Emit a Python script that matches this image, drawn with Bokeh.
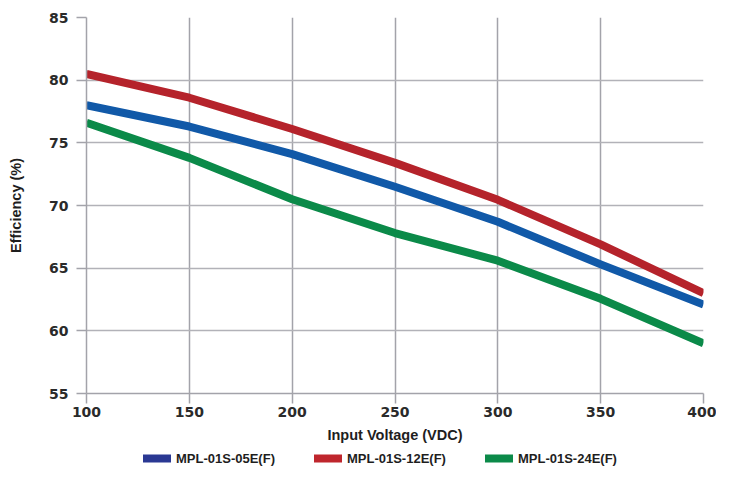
from bokeh.plotting import figure
from bokeh.layouts import column
from bokeh.models import FixedTicker, Legend, LegendItem
from bokeh.embed import file_html
from bokeh.resources import INLINE

voltage = [100, 150, 200, 250, 300, 350, 400]
eff_05 = [78.0, 76.3, 74.1, 71.5, 68.7, 65.3, 62.1]
eff_12 = [80.5, 78.6, 76.1, 73.4, 70.45, 66.9, 63.0]
eff_24 = [76.6, 73.8, 70.5, 67.8, 65.6, 62.55, 59.0]
series_names = ["MPL-01S-05E(F)", "MPL-01S-12E(F)", "MPL-01S-24E(F)"]
x_ticks = [100, 150, 200, 250, 300, 350, 400]
y_ticks = [55, 60, 65, 70, 75, 80, 85]

line_colors = ["#1159a8", "#b5232b", "#0b8a49"]
legend_colors = ["#2a3893", "#bf262d", "#0b8a49"]

p = figure(width=716, height=446, x_range=(100, 400), y_range=(55, 85),
           output_backend="svg", toolbar_location=None,
           min_border_left=86, min_border_right=13, min_border_top=17,
           min_border_bottom=53)
p.outline_line_color = None
p.background_fill_color = "white"

grid_col = "#a3a3aa"
p.xgrid.ticker = FixedTicker(ticks=[150, 200, 250, 300, 350])
p.xgrid.grid_line_color = grid_col
p.xgrid.grid_line_width = 1.5
p.ygrid.ticker = FixedTicker(ticks=[60, 65, 70, 75, 80, 85])
p.ygrid.grid_line_color = "#b2b2b8"
p.ygrid.grid_line_width = 1.5

for ax, ticks in ((p.xaxis[0], x_ticks), (p.yaxis[0], y_ticks)):
    ax.ticker = FixedTicker(ticks=ticks)
    ax.axis_line_color = grid_col
    ax.axis_line_width = 1.5
    ax.major_tick_line_color = grid_col
    ax.major_tick_line_width = 1.5
    ax.major_tick_out = 10
    ax.major_tick_in = 0
    ax.minor_tick_line_color = None
    ax.major_label_text_font = "DejaVu Sans"
    ax.major_label_text_font_style = "bold"
    ax.major_label_text_font_size = "14px"
    ax.major_label_text_color = "#2a2a2a"
    ax.axis_label_text_font = "Liberation Sans"
    ax.axis_label_text_font_style = "bold"
    ax.axis_label_text_font_size = "14.5px"
    ax.axis_label_text_color = "#1e1e1e"

p.xaxis.axis_label = "Input Voltage (VDC)"
p.xaxis.major_label_standoff = 3
p.xaxis.axis_label_standoff = 7
p.yaxis.axis_label = "Efficiency (%)"
p.yaxis.major_label_standoff = 8
p.yaxis.axis_label_standoff = 22

# legend strip below the chart
lg = figure(width=716, height=20, x_range=(100, 400), y_range=(55, 85),
            output_backend="svg", toolbar_location=None,
            x_axis_type=None, y_axis_type=None,
            min_border_left=0, min_border_right=0, min_border_top=0,
            min_border_bottom=0)
lg.outline_line_color = None
lg.xgrid.visible = False
lg.ygrid.visible = False

series = [eff_05, eff_12, eff_24]
items = []
for name, ys, lc, gc in zip(series_names, series, line_colors, legend_colors):
    p.line(voltage, ys, line_color=lc, line_width=8, line_join="round")
    proxy = lg.line(voltage, ys, line_color=gc, line_width=8, line_cap="round")
    proxy.visible = False
    items.append(LegendItem(label=name, renderers=[proxy]))

legend = Legend(items=items, orientation="horizontal", location=(57, 0))
legend.glyph_width = 28
legend.glyph_height = 10
legend.label_height = 16
legend.label_standoff = 5
legend.spacing = 39
legend.padding = 2
legend.margin = 0
legend.border_line_color = None
legend.background_fill_alpha = 0
legend.inactive_fill_alpha = 0
legend.label_text_font = "Liberation Sans"
legend.label_text_font_style = "bold"
legend.label_text_font_size = "13px"
legend.label_text_color = "#1e1e1e"
lg.add_layout(legend, "center")

layout = column(p, lg, spacing=0)
open("out.html", "w").write(file_html(layout, INLINE))
